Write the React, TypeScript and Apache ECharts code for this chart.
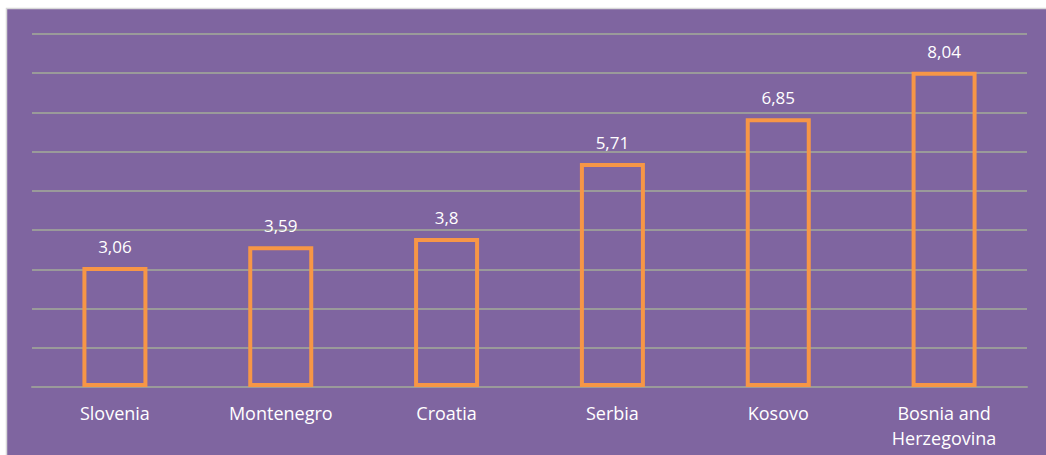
import React, { useEffect, useRef } from "react";
import * as echarts from "echarts";

const categories = ["Slovenia", "Montenegro", "Croatia", "Serbia", "Kosovo", "Bosnia and\nHerzegovina"];
const values = [3.06, 3.59, 3.8, 5.71, 6.85, 8.04];

export default function App() {
  const ref = useRef<HTMLDivElement>(null);
  useEffect(() => {
    const chart = echarts.init(ref.current!, null, { renderer: "svg" });
    chart.setOption({
      animation: false,
      backgroundColor: "#ffffff",
      graphic: [
        {
          type: "rect",
          z: -10,
          silent: true,
          shape: { x: 6.5, y: 8.5, width: 1050, height: 460 },
          style: { fill: "#7F65A0", stroke: "#d8d8d8", lineWidth: 1.5 },
        },
      ],
      grid: { left: 32, right: 19, top: 34, bottom: 68 },
      xAxis: {
        type: "category",
        data: categories,
        axisLine: { show: true, lineStyle: { color: "#9a9a9a", width: 2 } },
        axisTick: { show: false },
        axisLabel: {
          color: "#ffffff",
          fontFamily: "Open Sans",
          fontSize: 18,
          margin: 13,
          lineHeight: 25,
          interval: 0,
        },
      },
      yAxis: {
        type: "value",
        min: 0,
        max: 9,
        interval: 1,
        axisLabel: { show: false },
        axisLine: { show: false },
        axisTick: { show: false },
        splitLine: { lineStyle: { color: "#9a9a9a", width: 2 } },
      },
      series: [
        {
          type: "bar",
          data: values,
          barWidth: 65,
          itemStyle: { color: "rgba(0,0,0,0)", borderColor: "#F79646", borderWidth: 4 },
          label: {
            show: true,
            position: "top",
            distance: 12,
            color: "#ffffff",
            fontFamily: "Open Sans",
            fontSize: 17,
            formatter: (p: any) => String(p.value).replace(".", ","),
          },
        },
      ],
    });
    return () => chart.dispose();
  }, []);
  return (
    <div
      ref={ref}
      style={{ position: "absolute", left: 0, top: 0, width: 1046, height: 455 }}
    />
  );
}
